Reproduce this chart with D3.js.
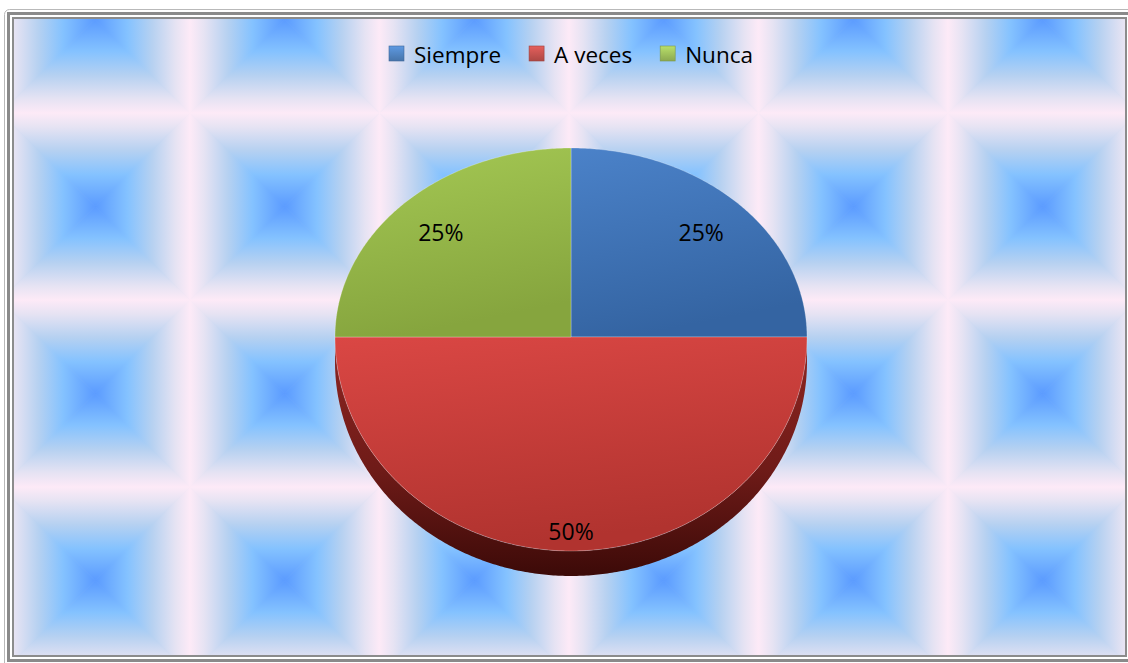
<!DOCTYPE html>
<html>
<head>
<meta charset="utf-8">
<script src="https://cdn.jsdelivr.net/npm/d3@7"></script>
<style>
    html, body { margin: 0; padding: 0; background: #fff; }
    svg { display: block; }
    text { font-family: 'Open Sans', sans-serif; fill: #000; }
</style>
</head>
<body>
<div class="chart"></div>
<script>
const categories = ['Siempre', 'A veces', 'Nunca'];
const values = [25, 50, 25];
const faceColors = [
    ['#4b82c9', '#3464a2'],
    ['#da4744', '#b1332f'],
    ['#a5c954', '#86a53e'],
];
const legendColors = ['#4f81bd', '#c0504d', '#9bbb59'];

const W = 1128;
const H = 663;
const svg = d3.select('.chart').append('svg').attr('width', W).attr('height', H);
const defs = svg.append('defs');

// plot area inside the frame
const area = { x: 14, y: 19, w: 1112, h: 637 };

// ---- tiled background (rectangular gradient tiles) ----
const tileW = 189.5;
const tileH = 187;
const tileX0 = 0.5;
const tileY0 = -74;
const tileStops = [
    [0, '#fdeaf7'],
    [0.15, '#e6e3f3'],
    [0.4, '#b6d1f1'],
    [0.66, '#84c2ff'],
    [1, '#5b9bff'],
];
// edge -> centre direction for each triangle
const tris = [
    { id: 'top', dir: [0, 0, 0, 1], pts: (w, h) => [[0, 0], [w, 0], [w / 2, h / 2]] },
    { id: 'bottom', dir: [0, 1, 0, 0], pts: (w, h) => [[0, h], [w, h], [w / 2, h / 2]] },
    { id: 'left', dir: [0, 0, 1, 0], pts: (w, h) => [[0, 0], [0, h], [w / 2, h / 2]] },
    { id: 'right', dir: [1, 0, 0, 0], pts: (w, h) => [[w, 0], [w, h], [w / 2, h / 2]] },
];
tris.forEach((t) => {
    const g = defs
        .append('linearGradient')
        .attr('id', `tile-${t.id}`)
        .attr('x1', t.dir[0])
        .attr('y1', t.dir[1])
        .attr('x2', t.dir[2])
        .attr('y2', t.dir[3]);
    tileStops.forEach((s) => g.append('stop').attr('offset', s[0]).attr('stop-color', s[1]));
});

defs.append('clipPath')
    .attr('id', 'area-clip')
    .append('rect')
    .attr('x', area.x)
    .attr('y', area.y)
    .attr('width', area.w)
    .attr('height', area.h);

const tiles = [];
d3.range(-1, 7).forEach((i) => {
    d3.range(0, 5).forEach((j) => tiles.push({ x: tileX0 + i * tileW, y: tileY0 + j * tileH }));
});

const bg = svg.append('g').attr('clip-path', 'url(#area-clip)');
bg.append('rect')
    .attr('x', area.x)
    .attr('y', area.y)
    .attr('width', area.w)
    .attr('height', area.h)
    .attr('fill', '#b6d1f1');

const tileG = bg
    .selectAll('.tile')
    .data(tiles)
    .enter()
    .append('g')
    .attr('class', 'tile')
    .attr('transform', (d) => `translate(${d.x},${d.y})`);

tris.forEach((t) => {
    tileG
        .append('polygon')
        .attr('points', t.pts(tileW, tileH).map((p) => p.join(',')).join(' '))
        .attr('fill', `url(#tile-${t.id})`)
        .attr('stroke', `url(#tile-${t.id})`)
        .attr('stroke-width', 0.8);
});

// ---- frame ----
svg.append('rect')
    .attr('x', 4.5).attr('y', 9.5).attr('width', 1140).attr('height', 670).attr('rx', 5)
    .attr('fill', 'none').attr('stroke', '#b9b9b9').attr('stroke-width', 1);
svg.append('rect')
    .attr('x', 8.5).attr('y', 13.5).attr('width', 1130).attr('height', 647)
    .attr('fill', 'none').attr('stroke', '#8a8a8a').attr('stroke-width', 3);
svg.append('rect')
    .attr('x', 13).attr('y', 18).attr('width', area.w + 1).attr('height', area.h + 1)
    .attr('fill', 'none').attr('stroke', '#8c8c8c').attr('stroke-width', 2);

// ---- 3D pie ----
const cx = 571;
const cy = 337;
const rx = 236;
const ryTop = 189;
const ryBot = 214;
const depth = 25;

function proj(a, k = 1, dy = 0) {
    const c = Math.cos(a);
    return [cx + k * rx * Math.sin(a), cy + dy - k * c * (c > 0 ? ryTop : ryBot)];
}

function arcPoints(a0, a1, dy = 0) {
    const n = Math.max(2, Math.ceil(Math.abs(a1 - a0) / 0.01));
    return d3.range(n + 1).map((i) => proj(a0 + ((a1 - a0) * i) / n, 1, dy));
}

const data = categories.map((c, i) => ({ name: c, value: values[i], i }));
const total = d3.sum(values);
const pie = d3.pie().sort(null).value((d) => d.value);
const arcs = pie(data);
const line = d3.line();

// side wall (only the front half is visible)
const side = defs.append('linearGradient')
    .attr('id', 'side')
    .attr('gradientUnits', 'userSpaceOnUse')
    .attr('x1', 0).attr('y1', cy).attr('x2', 0).attr('y2', cy + ryBot + depth);
[[0, '#8f2622'], [0.55, '#6f1b18'], [1, '#3c0a08']].forEach((s) =>
    side.append('stop').attr('offset', s[0]).attr('stop-color', s[1]));

const sidePts = [proj(Math.PI / 2)]
    .concat(arcPoints(Math.PI / 2, (3 * Math.PI) / 2, depth))
    .concat(arcPoints((3 * Math.PI) / 2, Math.PI / 2, 0));
svg.append('path')
    .attr('d', line(sidePts) + 'Z')
    .attr('fill', 'url(#side)');

arcs.forEach((a) => {
    const g = defs.append('linearGradient')
        .attr('id', `face-${a.index}`)
        .attr('x1', 0).attr('y1', 0).attr('x2', 0.25).attr('y2', 1);
    g.append('stop').attr('offset', 0).attr('stop-color', faceColors[a.index][0]);
    g.append('stop').attr('offset', 1).attr('stop-color', faceColors[a.index][1]);
});

svg.selectAll('.slice')
    .data(arcs)
    .enter()
    .append('path')
    .attr('class', 'slice')
    .attr('d', (d) => line([[cx, cy]].concat(arcPoints(d.startAngle, d.endAngle))) + 'Z')
    .attr('fill', (d) => `url(#face-${d.index})`)
    .attr('stroke', 'rgba(255,255,255,0.25)')
    .attr('stroke-width', 1);

// data labels
const pct = d3.format('.0%');
svg.selectAll('.pie-label')
    .data(arcs)
    .enter()
    .append('text')
    .attr('class', 'pie-label')
    .attr('text-anchor', 'middle')
    .style('font-size', '23px')
    .each(function (d) {
        const mid = (d.startAngle + d.endAngle) / 2;
        const k = Math.cos(mid) > 0 ? 0.78 : 0.91;
        const p = proj(mid, k);
        d3.select(this).attr('x', p[0]).attr('y', p[1] + 8);
    })
    .text((d) => pct(d.value / total));

// ---- legend ----
const legendG = svg.append('g').attr('class', 'legend');
const sw = 15;
const gapText = 10;
const gapItem = 28;
const items = legendG
    .selectAll('.legend-item')
    .data(data)
    .enter()
    .append('g')
    .attr('class', 'legend-item');

data.forEach((d, i) => {
    const g = defs.append('linearGradient')
        .attr('id', `leg-${i}`)
        .attr('x1', 0).attr('y1', 0).attr('x2', 0).attr('y2', 1);
    const c = d3.color(legendColors[i]);
    g.append('stop').attr('offset', 0).attr('stop-color', c.brighter(0.5));
    g.append('stop').attr('offset', 1).attr('stop-color', c.darker(0.3));
});

items.append('rect')
    .attr('width', sw)
    .attr('height', sw)
    .attr('y', 46)
    .attr('fill', (d) => `url(#leg-${d.i})`)
    .attr('stroke', (d) => d3.color(legendColors[d.i]).darker(0.6))
    .attr('stroke-width', 0.6);

items.append('text')
    .attr('x', sw + gapText)
    .attr('y', 63)
    .style('font-size', '22.5px')
    .text((d) => d.name);

let xCursor = 0;
const widths = [];
items.each(function () {
    const tw = d3.select(this).select('text').node().getComputedTextLength();
    widths.push(sw + gapText + tw);
});
const legendW = d3.sum(widths) + gapItem * (widths.length - 1);
const lx = cx - legendW / 2;
items.attr('transform', (d, i) => {
    const x = lx + xCursor;
    xCursor += widths[i] + gapItem;
    return `translate(${x},0)`;
});
</script>
</body>
</html>
